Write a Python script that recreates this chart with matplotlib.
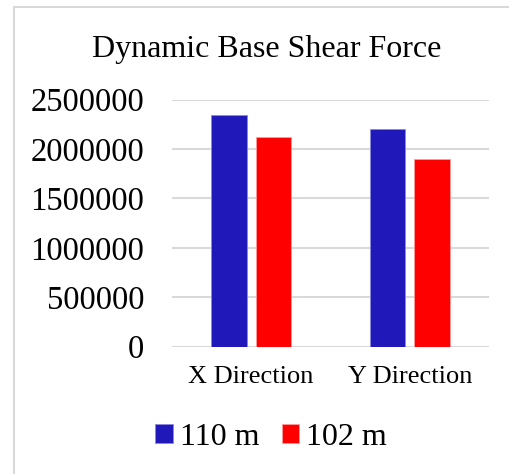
import numpy as np
import matplotlib
matplotlib.use("Agg")
import matplotlib.pyplot as plt
from matplotlib.patches import Rectangle

plt.rcParams['font.family'] = ['Liberation Serif', 'DejaVu Serif']

# Base shear per direction for each building height
categories = ["X Direction", "Y Direction"]
series_names = ["110 m", "102 m"]
shear_110 = [2340000, 2205000]
shear_102 = [2122000, 1897000]
colors = ["#2118BA", "#FF0000"]

fig = plt.figure(figsize=(5.1, 4.74), dpi=100)
ax = fig.add_axes([0.337, 0.2686, 0.622, 0.5211])

x = np.arange(len(categories))
width = 0.225
offset = 0.141
b1 = ax.bar(x - offset, shear_110, width, color=colors[0], edgecolor="#8C88E0",
            linewidth=0.6, label=series_names[0], zorder=3)
b2 = ax.bar(x + offset, shear_102, width, color=colors[1], edgecolor="#FF9A9A",
            linewidth=0.6, label=series_names[1], zorder=3)

ax.set_xlim(-0.5, 1.5)
ax.set_ylim(0, 2500000)
ax.set_yticks(np.arange(0, 2500001, 500000))
ax.set_yticklabels([str(v) for v in range(0, 2500001, 500000)], fontsize=23.5)
ax.set_xticks(x)
ax.set_xticklabels(categories, fontsize=19)
ax.tick_params(axis='both', length=0)
ax.tick_params(axis='y', pad=20)
ax.tick_params(axis='x', pad=14)
ax.yaxis.grid(True, color="#D9D9D9", linewidth=1.5, zorder=0)
ax.set_axisbelow(True)
for s in ax.spines.values():
    s.set_visible(False)

fig.text(0.522, 0.895, "Dynamic Base Shear Force", ha='center', va='center', fontsize=23)

fig.legend(handles=[b1, b2], labels=series_names, loc='center',
           bbox_to_anchor=(0.532, 0.078), ncol=2, frameon=False, fontsize=23,
           handlelength=0.55, handleheight=0.55, handletextpad=0.22, columnspacing=0.7)

# light frame around the chart area
fig.patches.append(Rectangle((14 / 510, -0.1), 1.2, 1.1 - 7 / 474,
                             transform=fig.transFigure, fill=False,
                             edgecolor="#D9D9D9", linewidth=1.5))

fig.savefig("out.png", dpi=100)
